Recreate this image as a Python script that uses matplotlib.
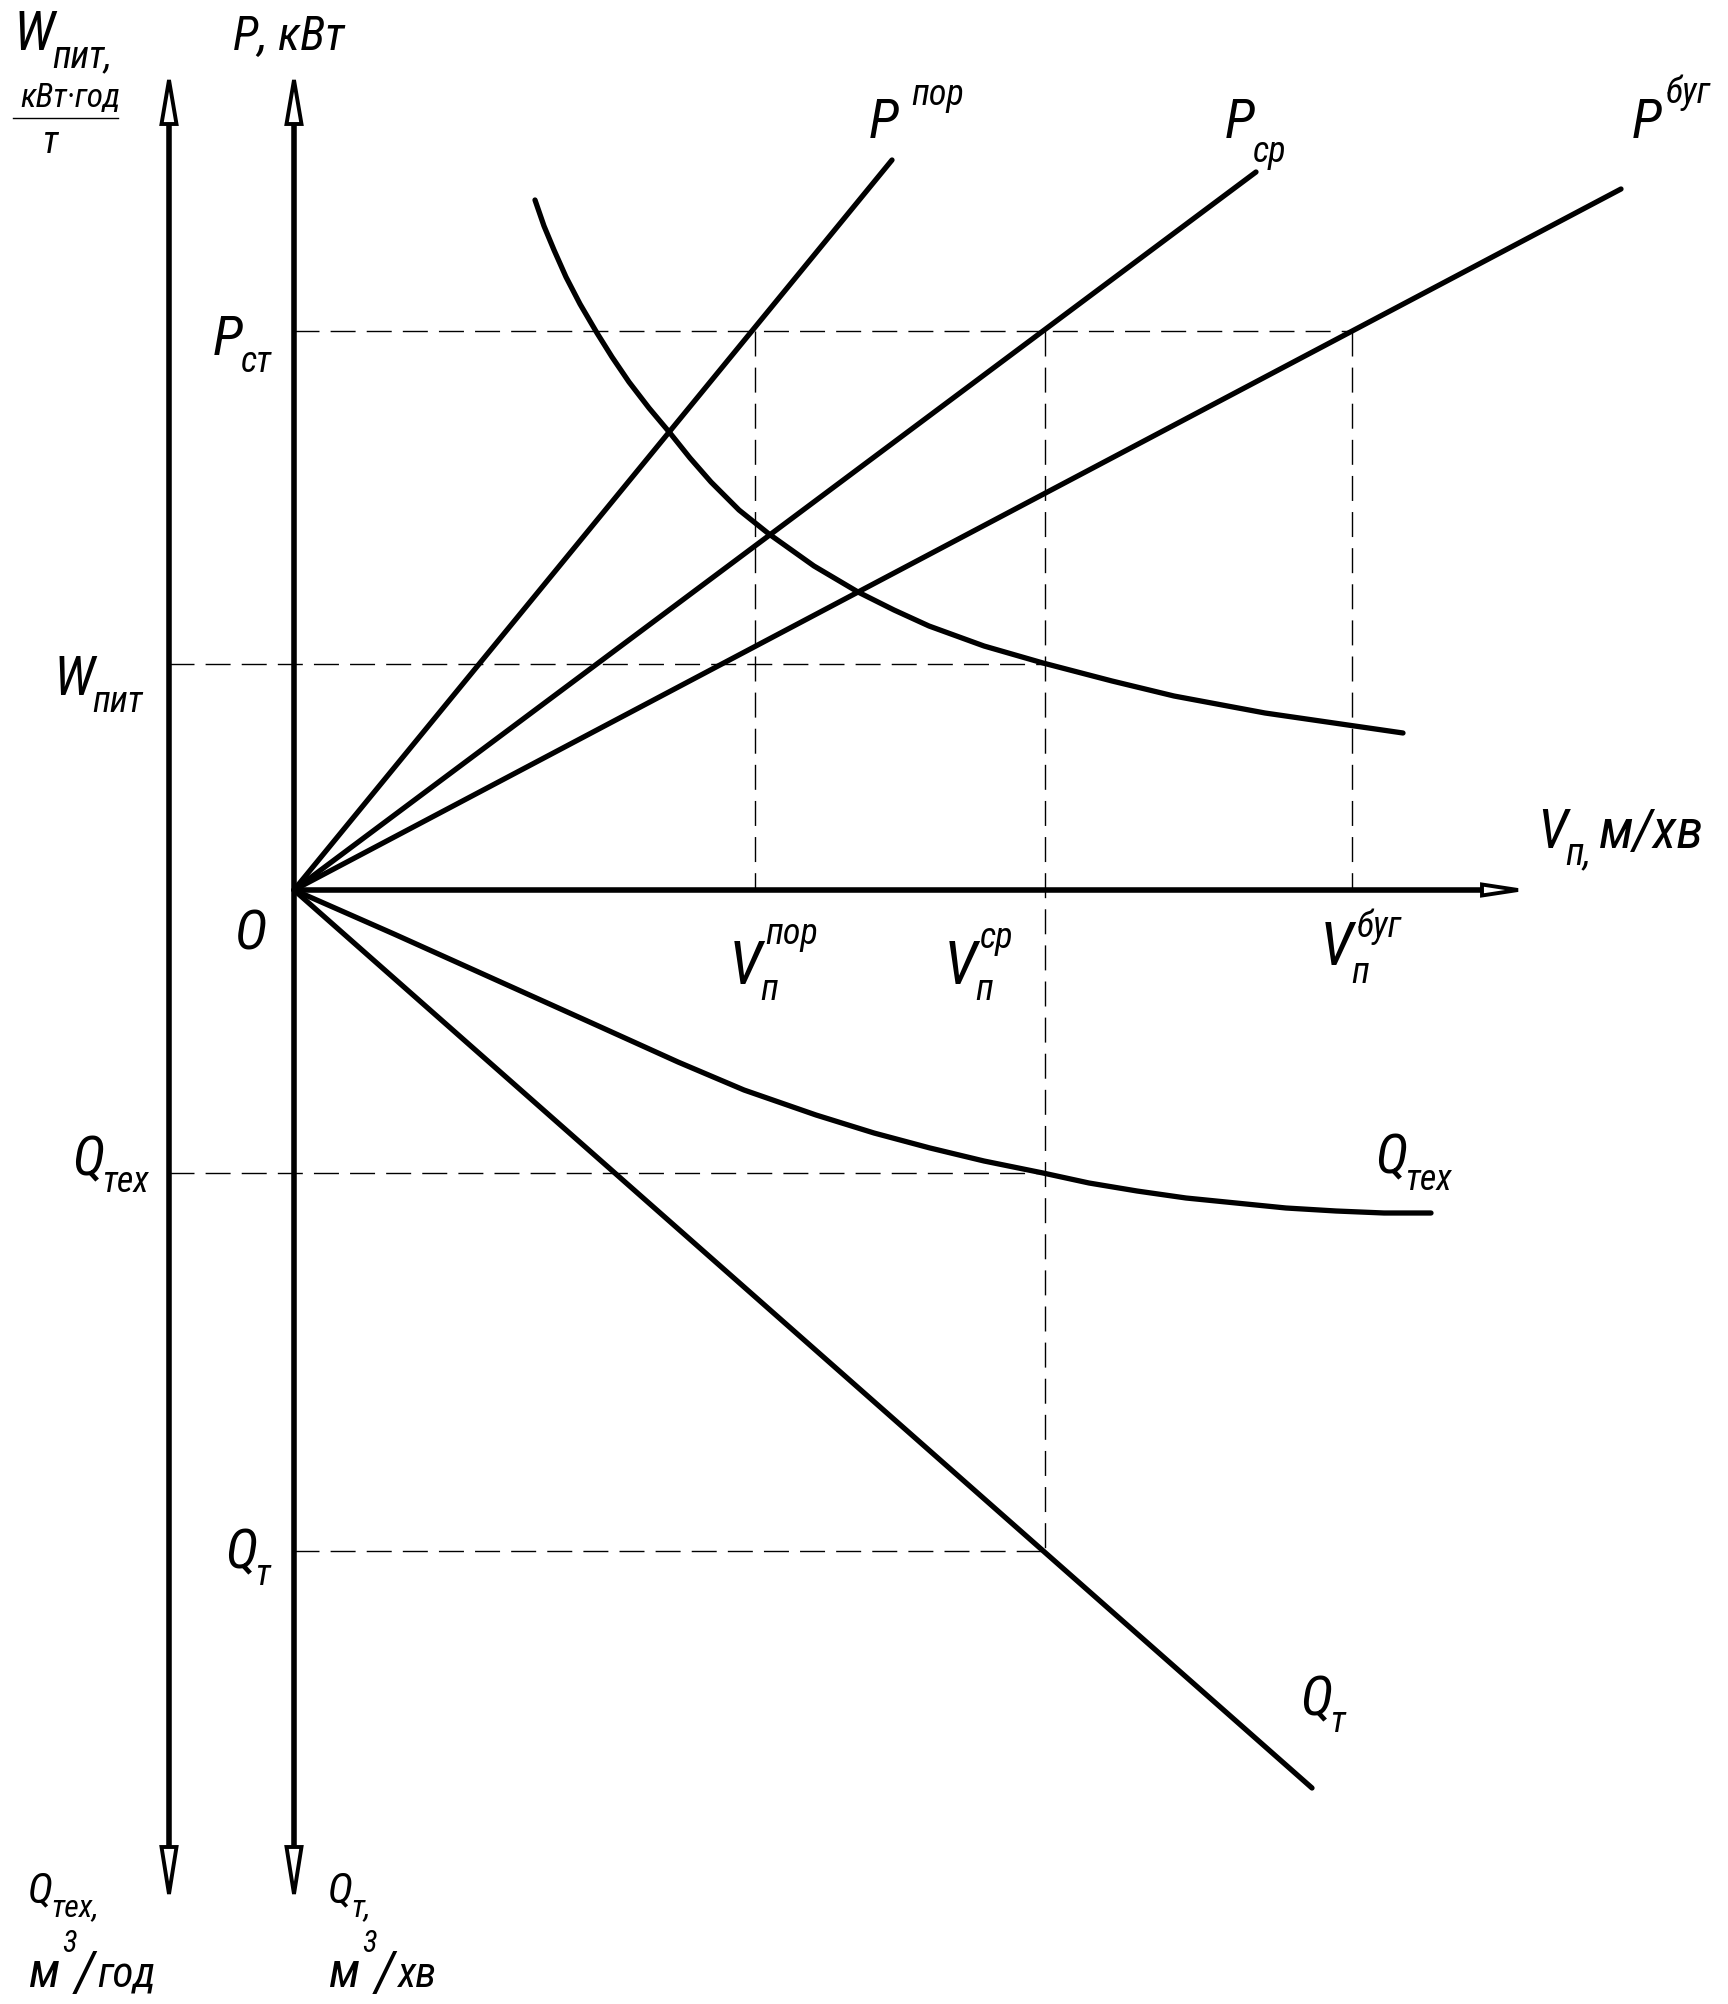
import numpy as np
import matplotlib.pyplot as plt
from matplotlib.patches import Polygon

FONT = ['Roboto Condensed', 'Liberation Sans Narrow', 'Roboto', 'DejaVu Sans']

# schematic units (origin at O)
v_por_line = [0.0, 5.98]
p_por_line = [0.0, 7.30]
v_sr_line = [0.0, 9.62]
p_sr_line = [0.0, 7.18]
v_bug_line = [0.0, 13.27]
p_bug_line = [0.0, 7.01]
v_qt_line = [0.0, 10.18]
q_t_line = [0.0, -8.98]

# W_пит curve
v_w = [2.41, 2.50, 2.60, 2.72, 2.86, 3.03, 3.18, 3.35, 3.55, 3.76, 3.96, 4.17, 4.45,
       4.75, 5.20, 5.64, 6.00, 6.35, 6.90, 7.49, 8.18, 8.80, 9.71, 10.40, 11.09]
w_pit = [6.90, 6.64, 6.40, 6.13, 5.86, 5.57, 5.33, 5.08, 4.82, 4.57, 4.32, 4.08, 3.80,
         3.56, 3.24, 2.98, 2.80, 2.64, 2.44, 2.27, 2.09, 1.94, 1.77, 1.67, 1.57]

# Q_тех curve
v_q = [0.0, 1.00, 2.00, 3.00, 3.84, 4.50, 5.22, 5.80, 6.36, 6.90, 7.49, 7.95,
       8.43, 8.92, 9.42, 9.92, 10.42, 10.90, 11.37]
q_teh = [0.0, -0.44, -0.89, -1.34, -1.72, -2.00, -2.25, -2.43, -2.58, -2.71, -2.83, -2.93,
         -3.01, -3.08, -3.13, -3.18, -3.21, -3.23, -3.23]

v_marks = [4.61, 7.51, 10.58]   # V_п^пор, V_п^ср, V_п^буг
p_st = 5.59
w_level = 2.26
q_teh_level = -2.83
q_t_level = -6.61

v_axis_end = 12.24
p_axis_top = 8.10
p_axis_bottom = -10.04
w_axis_x = -1.25

fig = plt.figure(figsize=(17.28, 20.04), dpi=100)
ax = fig.add_axes([0, 0, 1, 1])
ax.set_xlim(-2.94, 14.34)
ax.set_ylim(-11.14, 8.90)
ax.axis('off')
renderer = fig.canvas.get_renderer()

LW = 3.8
AX_LW = 4.0


def arrow_head(tip, direction, length=0.44, half=0.075):
    tx, ty = tip
    dx, dy = direction
    bx, by = tx - dx * length, ty - dy * length
    px, py = -dy * half, dx * half
    pts = [(tx, ty), (bx + px, by + py), (bx - px, by - py)]
    ax.add_patch(Polygon(pts, closed=True, facecolor='white', edgecolor='black',
                         lw=2.8, joinstyle='miter', zorder=5))


# axes
for x0 in (0.0, w_axis_x):
    ax.plot([x0, x0], [p_axis_bottom + 0.4, p_axis_top - 0.4], color='black', lw=AX_LW,
            solid_capstyle='butt')
    arrow_head((x0, p_axis_top), (0, 1))
    arrow_head((x0, p_axis_bottom), (0, -1), length=0.47)
ax.plot([0, v_axis_end - 0.33], [0, 0], color='black', lw=AX_LW, solid_capstyle='butt')
arrow_head((v_axis_end, 0), (1, 0), length=0.36, half=0.055)

# characteristics
for xs, ys in [(v_por_line, p_por_line), (v_sr_line, p_sr_line),
               (v_bug_line, p_bug_line), (v_qt_line, q_t_line),
               (v_w, w_pit), (v_q, q_teh)]:
    ax.plot(xs, ys, color='black', lw=LW, solid_capstyle='round', solid_joinstyle='round')

# dashed construction lines
dash = dict(color='black', lw=1.0, dashes=(18, 8))
ax.plot([0, v_marks[2]], [p_st, p_st], **dash)
ax.plot([w_axis_x, v_marks[1]], [w_level, w_level], **dash)
ax.plot([w_axis_x, v_marks[1]], [q_teh_level, q_teh_level], **dash)
ax.plot([0, v_marks[1]], [q_t_level, q_t_level], **dash)
ax.plot([v_marks[0], v_marks[0]], [p_st, 0], **dash)
ax.plot([v_marks[1], v_marks[1]], [p_st, q_t_level], **dash)
ax.plot([v_marks[2], v_marks[2]], [p_st, 0], **dash)


def txt(x, y, s, size=40):
    return ax.text(x, y, s, fontsize=size, fontstyle='italic', family=FONT,
                   ha='left', va='baseline', color='black')


def right_edge(t):
    bb = t.get_window_extent(renderer)
    return ax.transData.inverted().transform((bb.x1, bb.y0))[0]


def label(x, y, main, sub=None, sup=None, size=40, ssize=26,
          sub_dy=-0.17, sup_dy=0.34, sub_dx=-0.02, sup_dx=0.04):
    t = txt(x, y, main, size)
    xe = right_edge(t)
    if sub:
        txt(xe + sub_dx, y + sub_dy, sub, ssize)
    if sup:
        txt(xe + sup_dx, y + sup_dy, sup, ssize)


# top-left W axis title
label(-2.81, 8.40, 'W', sub='пит,', size=40, ssize=27)
txt(-2.74, 7.83, 'кВт·год', 24)
ax.plot([-2.81, -1.76], [7.72, 7.72], color='black', lw=1.0)
txt(-2.51, 7.37, 'т', 27)

# P axis title
txt(-0.61, 8.40, 'P, кВт', 34)

# left labels
label(-0.81, p_st - 0.24, 'P', sub='ст')
label(-2.41, w_level - 0.31, 'W', sub='пит')
label(-2.22, q_teh_level - 0.02, 'Q', sub='тех')
label(-0.69, q_t_level - 0.17, 'Q', sub='т')
txt(-0.59, -0.60, 'O', 40)

# V labels
label(v_marks[0] - 0.26, -0.94, 'V', sub='п', sup='пор', size=44,
      sub_dy=-0.16, sup_dy=0.40, sup_dx=0.03)
label(v_marks[1] - 1.01, -0.94, 'V', sub='п', sup='ср', size=44,
      sub_dy=-0.16, sup_dy=0.36, sup_dx=0.03)
label(v_marks[2] - 0.32, -0.75, 'V', sub='п', sup='буг', size=44,
      sub_dy=-0.18, sup_dy=0.28, sup_dx=0.03)
t = txt(12.43, 0.42, 'V', 40)
xe = right_edge(t)
t = txt(xe - 0.02, 0.26, 'п,', 27)
txt(right_edge(t) + 0.08, 0.42, 'м/хв', 40)

# curve labels
label(5.75, 7.52, 'P', sup='пор', sup_dy=0.33, sup_dx=0.12)
label(9.31, 7.52, 'P', sub='ср', sub_dy=-0.24)
label(13.38, 7.52, 'P', sup='буг', sup_dy=0.35)
label(10.81, -2.83, 'Q', sub='тех')
label(10.06, -8.25, 'Q', sub='т')

# bottom unit labels
for x0, sub, unit in [(-2.66, 'тех,', 'год'), (0.34, 'т,', 'хв')]:
    label(x0, -10.12, 'Q', sub=sub, size=31, ssize=23, sub_dy=-0.14)
    t = txt(x0, -10.97, 'м', 36)
    t = txt(right_edge(t) + 0.03, -10.62, '3', 22)
    t = txt(right_edge(t) - 0.02, -11.00, '/', 40)
    txt(right_edge(t) + 0.02, -10.97, unit, 31)

fig.savefig('out.png', dpi=100, facecolor='white')
